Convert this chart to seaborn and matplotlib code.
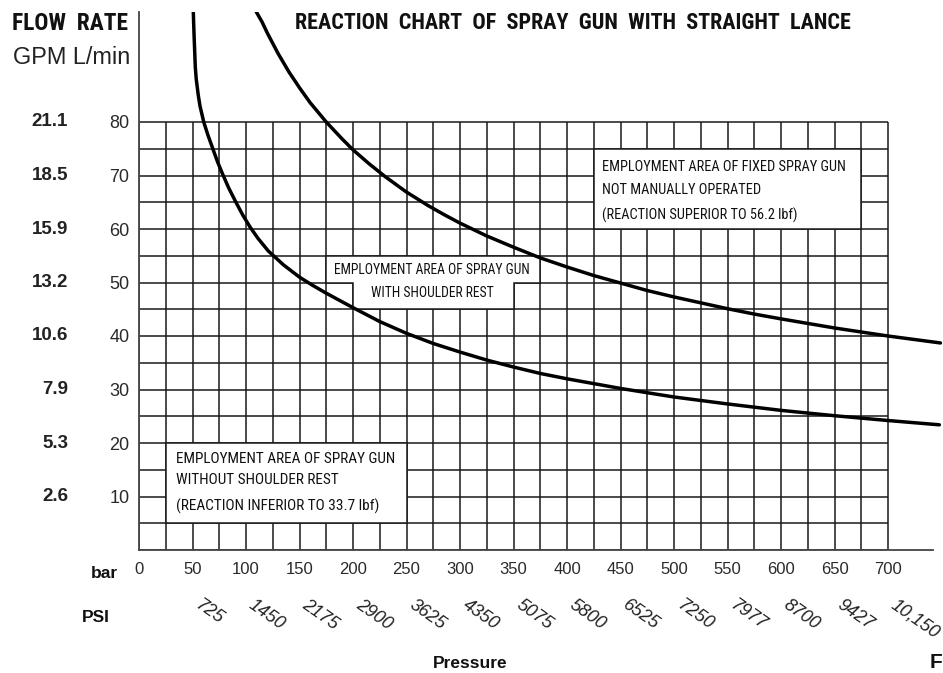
import numpy as np
import pandas as pd
import seaborn as sns
import matplotlib
matplotlib.use("Agg")
import matplotlib.pyplot as plt
from matplotlib.patches import Polygon, Rectangle
from matplotlib.transforms import blended_transform_factory as blend

# values
bar_ticks = [0, 50, 100, 150, 200, 250, 300, 350, 400, 450, 500, 550, 600, 650, 700]
psi_bars = [50, 100, 150, 200, 250, 300, 350, 400, 450, 500, 550, 600, 650, 700]
psi_labels = ["725", "1450", "2175", "2900", "3625", "4350", "5075", "5800",
              "6525", "7250", "7977", "8700", "9427", "10,150"]
lpm_ticks = [10, 20, 30, 40, 50, 60, 70, 80]
gpm_labels = ["2.6", "5.3", "7.9", "10.6", "13.2", "15.9", "18.5", "21.1"]

# curve without / with shoulder rest limit
lower_bar = [50.7, 51.0, 51.5, 51.9, 52.6, 53.5, 55.4, 57.0, 60.5, 64.5, 69, 73.5,
             78.7, 84, 90.6, 97, 103.7, 111, 120.8, 135, 150, 162, 175, 187, 200,
             225, 250, 275, 300, 325, 350, 375, 400, 450, 500, 550, 600, 650, 700, 748]
lower_lpm = [101, 99, 96, 94, 90.3, 88, 85, 83, 80, 77.5, 75, 72.5,
             70, 67.6, 65, 62.6, 60.4, 58.3, 55.9, 53.3, 51.0, 49.5, 48.0, 46.7, 45.3,
             42.7, 40.5, 38.6, 37.0, 35.5, 34.2, 33.0, 32.0, 30.2, 28.6, 27.3, 26.1,
             25.1, 24.2, 23.4]
# curve for fixed spray gun limit
upper_bar = [109, 115, 120, 130, 140, 150, 160, 175, 190, 200, 215, 230, 250, 270,
             285, 300, 325, 350, 375, 400, 425, 450, 475, 500, 525, 550, 575, 600,
             650, 700, 749]
upper_lpm = [100.8, 98.7, 96.6, 92.8, 89.4, 86.4, 83.6, 80.0, 76.8, 74.8, 72.2, 69.8,
             66.9, 64.4, 62.7, 61.1, 58.7, 56.6, 54.6, 52.9, 51.3, 49.9, 48.5, 47.3,
             46.2, 45.1, 44.1, 43.2, 41.5, 40.0, 38.7]

title = "REACTION  CHART  OF  SPRAY  GUN  WITH  STRAIGHT  LANCE"
box1_lines = ["EMPLOYMENT AREA OF FIXED SPRAY GUN", "NOT MANUALLY OPERATED",
              "(REACTION SUPERIOR TO 56.2 lbf)"]
box2_lines = ["EMPLOYMENT AREA OF SPRAY GUN", "WITH SHOULDER REST"]
box3_lines = ["EMPLOYMENT AREA OF SPRAY GUN", "WITHOUT SHOULDER REST",
              "(REACTION INFERIOR TO 33.7 lbf)"]

sns.set_theme(style="white")
plt.rcParams["font.family"] = ["Liberation Sans", "DejaVu Sans"]

W, H = 943, 673
X0, Y0, YTOP = 139, 550, 12
PX_BAR = 749 / 700
PX_LPM = 428 / 80

fig = plt.figure(figsize=(W / 100, H / 100), dpi=100)
ax = fig.add_axes([X0 / W, (H - Y0) / H, (W - X0) / W, (Y0 - YTOP) / H])
ax.set_xlim(0, (W - X0) / PX_BAR)
ax.set_ylim(0, (Y0 - YTOP) / PX_LPM)


def fx(px):
    return px / W


def fy(py):
    return (H - py) / H


ink = "#1a1a1a"

# grid only covers 0-700 bar, 0-80 L/min
ax.vlines(np.arange(0, 701, 25), 0, 80, colors=ink, lw=1.1, zorder=1)
ax.hlines(np.arange(0, 81, 5), 0, 700, colors=ink, lw=1.1, zorder=1)

# white text boxes
ax.add_patch(Rectangle((425, 60), 250, 15, fc="white", ec=ink, lw=1.1, zorder=2))
ax.add_patch(Rectangle((25, 5), 225, 15, fc="white", ec=ink, lw=1.1, zorder=2))
ax.add_patch(Polygon([(175, 55), (375, 55), (375, 50), (350, 50), (350, 45),
                      (200, 45), (200, 50), (175, 50)], closed=True,
                     fc="white", ec=ink, lw=1.1, zorder=2))

lower = pd.DataFrame({"bar": lower_bar, "lpm": lower_lpm})
upper = pd.DataFrame({"bar": upper_bar, "lpm": upper_lpm})
sns.lineplot(data=lower, x="bar", y="lpm", sort=False, estimator=None,
             color="black", linewidth=2.5, ax=ax, zorder=5)
sns.lineplot(data=upper, x="bar", y="lpm", sort=False, estimator=None,
             color="black", linewidth=2.5, ax=ax, zorder=5)
for ln in ax.lines:
    ln.set_solid_joinstyle("round")

for s in ["top", "right"]:
    ax.spines[s].set_visible(False)
ax.spines["left"].set_color("#444")
ax.spines["left"].set_linewidth(1.3)
ax.spines["bottom"].set_color("#444")
ax.spines["bottom"].set_linewidth(1.3)
ax.spines["bottom"].set_bounds(0, (933 - X0) / PX_BAR)

ax.set_xticks(bar_ticks)
ax.set_xticklabels([str(b) for b in bar_ticks])
ax.set_yticks(lpm_ticks)
ax.set_yticklabels([str(v) for v in lpm_ticks])
ax.tick_params(axis="x", length=0, pad=9, labelsize=12, labelcolor="#2a2a2a")
ax.tick_params(axis="y", length=0, pad=7, labelsize=13, labelcolor="#2a2a2a")
ax.set_xlabel("")
ax.set_ylabel("")

renderer = fig.canvas.get_renderer()


def fit(t, width):
    bb = t.get_window_extent(renderer)
    t.set_fontsize(t.get_fontsize() * width / bb.width)
    return t.get_fontsize()


narrow = ["DejaVu Sans Condensed", "Roboto Condensed", "Liberation Sans Narrow",
          "Open Sans Condensed", "Liberation Sans"]

# GPM labels on the far left
tr_gpm = blend(fig.transFigure, ax.transData)
for v, lab in zip(lpm_ticks, gpm_labels):
    ax.text(fx(68), v, lab, transform=tr_gpm, ha="right", va="center",
            fontsize=13.5, weight="bold", color="#222")

# PSI labels, slanted
tr_psi = blend(ax.transData, fig.transFigure)
for b, lab in zip(psi_bars, psi_labels):
    ax.text(b + 4, fy(603), lab, transform=tr_psi, ha="left", va="center",
            rotation=-35, rotation_mode="anchor", fontsize=13, style="italic",
            color="#222")

fig.text(fx(118), fy(573), "bar", ha="right", va="center", fontsize=12.5,
         weight="bold", color="#111")
fig.text(fx(82), fy(618), "PSI", ha="left", va="center", fontsize=12.5,
         weight="bold", color="#111")
fig.text(fx(470), fy(663), "Pressure", ha="center", va="center", fontsize=12.5,
         weight="bold", color="#111")
fig.text(fx(930), fy(663), "F", ha="left", va="center", fontsize=15,
         weight="bold", color="#111")

t = fig.text(fx(295), fy(23), title, ha="left", va="center", family=narrow,
             stretch="condensed", weight="bold", fontsize=20, color="#111")
fit(t, 557)
t = fig.text(fx(12), fy(23), "FLOW  RATE", ha="left", va="center", family=narrow,
             stretch="condensed", weight="bold", fontsize=20, color="#111")
fit(t, 116)
t = fig.text(fx(13), fy(57), "GPM L/min", ha="left", va="center", fontsize=15.5,
             color="#222")
fit(t, 117)


def box_text(lines, xs, ys, width, ha):
    first = ax.text(xs[0], ys[0], lines[0], ha=ha, va="center", family=narrow,
                    stretch="condensed", fontsize=10, color="#111", zorder=3)
    size = fit(first, width)
    for x, y, line in zip(xs[1:], ys[1:], lines[1:]):
        ax.text(x, y, line, ha=ha, va="center", family=narrow, stretch="condensed",
                fontsize=size, color="#111", zorder=3)


box_text(box1_lines, [433, 433, 433], [71.6, 67.3, 62.6], 245, "left")
box_text(box2_lines, [274, 274], [52.3, 48.0], 197, "center")
box_text(box3_lines, [35, 35, 35], [17.1, 13.1, 8.1], 221, "left")

fig.savefig("out.png", dpi=100)
